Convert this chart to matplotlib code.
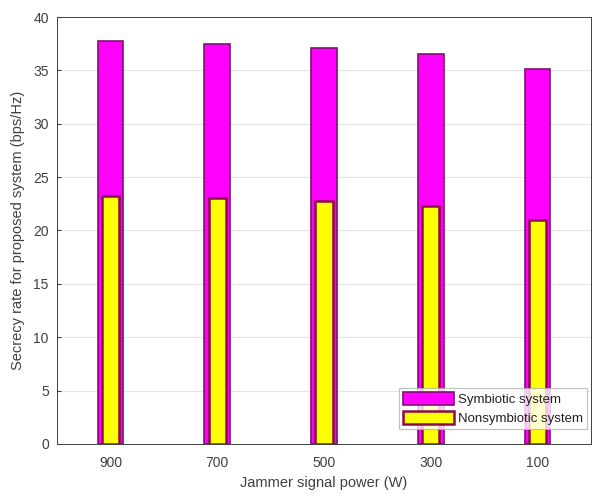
import numpy as np
import matplotlib.pyplot as plt

plt.rcParams['font.family'] = ['Liberation Sans', 'DejaVu Sans']

powers = ['900', '700', '500', '300', '100']
symbiotic = [37.8, 37.45, 37.1, 36.5, 35.1]
nonsymbiotic = [23.2, 23.0, 22.75, 22.3, 21.0]

x = np.arange(1, len(powers) + 1)

fig = plt.figure(figsize=(5.95, 5.01), dpi=100)
ax = fig.add_axes([0.096, 0.114, 0.897, 0.852])

ax.bar(x, symbiotic, width=0.24, color='#ff00ff', edgecolor='#80106e', linewidth=1.2,
       label='Symbiotic system', zorder=3)
ax.bar(x, nonsymbiotic, width=0.16, color='#ffff00', edgecolor='#8a0a4a', linewidth=1.8,
       label='Nonsymbiotic system', zorder=4)

ax.set_xlim(0.5, 5.5)
ax.set_ylim(0, 40)
ax.set_xticks(x)
ax.set_xticklabels(powers)
ax.set_yticks(np.arange(0, 41, 5))
ax.grid(axis='y', color='#e3e3e3', linewidth=0.8, zorder=0)
ax.tick_params(colors='#404040', labelsize=10, direction='in', length=3)
ax.tick_params(axis='x', pad=9)
ax.tick_params(axis='y', pad=6)
for s in ax.spines.values():
    s.set_color('#404040')
    s.set_linewidth(0.7)

ax.set_xlabel('Jammer signal power (W)', fontsize=10.5, color='#404040', labelpad=4)
ax.set_ylabel('Secrecy rate for proposed system (bps/Hz)', fontsize=10.5, color='#404040', labelpad=6)

leg = ax.legend(loc='lower right', fontsize=9.5, frameon=True, fancybox=False,
                edgecolor='#b0b0b0', borderpad=0.3, handlelength=3.9, handleheight=1.15,
                handletextpad=0.3, labelspacing=0.4, borderaxespad=0.3,
                bbox_to_anchor=(1.0, 0.025))
leg.get_frame().set_linewidth(0.8)
for t in leg.get_texts():
    t.set_color('#202020')

fig.savefig('out.png', dpi=100)
